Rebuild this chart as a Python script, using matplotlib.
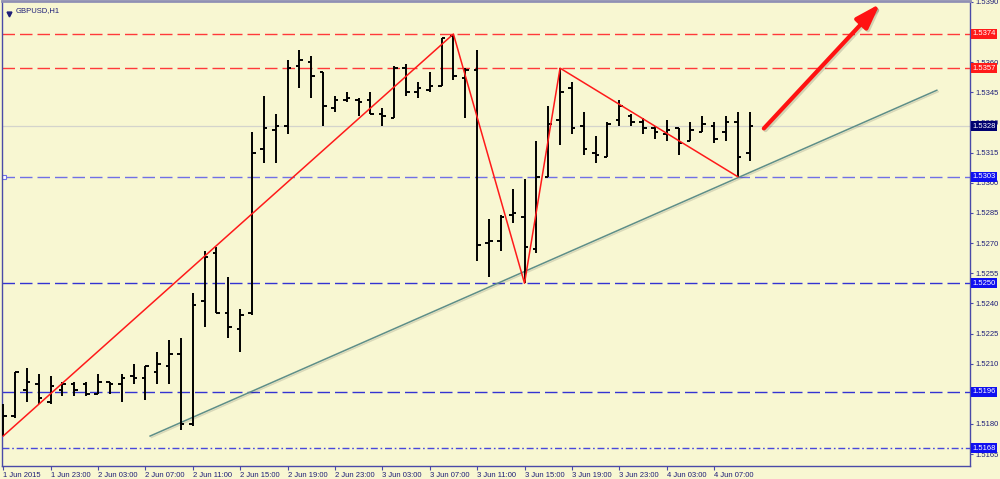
import numpy as np
import matplotlib.pyplot as plt
import matplotlib.patheffects as pe
import matplotlib.transforms as mtrans

# GBPUSD H1 bars (1 Jun 19:00 .. 4 Jun 10:00)
opens = [1.5177, 1.5184, 1.5197, 1.5200, 1.5191, 1.5197, 1.5200, 1.5200, 1.5195, 1.5201,
         1.5200, 1.5204, 1.5203, 1.5206, 1.5209, 1.5215, 1.5180, 1.5241, 1.5265, 1.5235,
         1.5227, 1.5235, 1.5317, 1.5326, 1.5328, 1.5358, 1.5360, 1.5355, 1.5337, 1.5341,
         1.5341, 1.5341, 1.5334, 1.5332, 1.5357, 1.5345, 1.5346, 1.5348, 1.5373, 1.5352,
         1.5356, 1.5270, 1.5271, 1.5284, 1.5283, 1.5267, 1.5303, 1.5331, 1.5347, 1.5328,
         1.5315, 1.5313, 1.5331, 1.5333, 1.5330, 1.5327, 1.5324, 1.5327, 1.5321, 1.5325,
         1.5328, 1.5325, 1.5330, 1.5315]
highs = [1.5190, 1.5206, 1.5208, 1.5205, 1.5204, 1.5201, 1.5201, 1.5201, 1.5205, 1.5201,
         1.5205, 1.5210, 1.5209, 1.5216, 1.5222, 1.5223, 1.5245, 1.5266, 1.5268, 1.5253,
         1.5237, 1.5325, 1.5343, 1.5334, 1.5361, 1.5366, 1.5363, 1.5355, 1.5343, 1.5345,
         1.5342, 1.5345, 1.5337, 1.5358, 1.5359, 1.5350, 1.5355, 1.5372, 1.5374, 1.5357,
         1.5366, 1.5282, 1.5284, 1.5297, 1.5302, 1.5321, 1.5338, 1.5357, 1.5350, 1.5335,
         1.5323, 1.5330, 1.5341, 1.5334, 1.5332, 1.5328, 1.5331, 1.5327, 1.5330, 1.5333,
         1.5330, 1.5333, 1.5335, 1.5335]
lows = [1.5174, 1.5183, 1.5191, 1.5190, 1.5190, 1.5194, 1.5194, 1.5194, 1.5195, 1.5195,
        1.5191, 1.5200, 1.5192, 1.5200, 1.5200, 1.5177, 1.5179, 1.5228, 1.5235, 1.5223,
        1.5216, 1.5234, 1.5310, 1.5310, 1.5324, 1.5347, 1.5342, 1.5328, 1.5335, 1.5340,
        1.5333, 1.5334, 1.5328, 1.5332, 1.5343, 1.5342, 1.5345, 1.5348, 1.5351, 1.5332,
        1.5261, 1.5253, 1.5266, 1.5280, 1.5250, 1.5265, 1.5303, 1.5319, 1.5324, 1.5314,
        1.5310, 1.5313, 1.5328, 1.5328, 1.5324, 1.5322, 1.5321, 1.5314, 1.5321, 1.5325,
        1.5320, 1.5321, 1.5303, 1.5311]
closes = [1.5184, 1.5206, 1.5201, 1.5193, 1.5199, 1.5200, 1.5197, 1.5195, 1.5201, 1.5200,
          1.5203, 1.5203, 1.5209, 1.5210, 1.5215, 1.5180, 1.5239, 1.5263, 1.5235, 1.5228,
          1.5234, 1.5315, 1.5327, 1.5328, 1.5357, 1.5361, 1.5353, 1.5338, 1.5341, 1.5342,
          1.5340, 1.5334, 1.5333, 1.5357, 1.5345, 1.5347, 1.5348, 1.5372, 1.5353, 1.5356,
          1.5269, 1.5271, 1.5283, 1.5285, 1.5268, 1.5303, 1.5329, 1.5345, 1.5327, 1.5317,
          1.5314, 1.5329, 1.5338, 1.5330, 1.5327, 1.5325, 1.5326, 1.5320, 1.5326, 1.5329,
          1.5322, 1.5330, 1.5313, 1.5328]

time_labels = ['1 Jun 2015', '1 Jun 23:00', '2 Jun 03:00', '2 Jun 07:00', '2 Jun 11:00',
               '2 Jun 15:00', '2 Jun 19:00', '2 Jun 23:00', '3 Jun 03:00', '3 Jun 07:00',
               '3 Jun 11:00', '3 Jun 15:00', '3 Jun 19:00', '3 Jun 23:00', '4 Jun 03:00',
               '4 Jun 07:00']
label_every = 4

# scale labels shown on the right (1.5195 / 1.5375 sit under the level boxes)
price_ticks = [1.5165, 1.5180, 1.5210, 1.5225, 1.5240, 1.5255, 1.5270, 1.5285,
               1.5300, 1.5315, 1.5330, 1.5345, 1.5360, 1.5390]

red_levels = [1.5374, 1.5357]
blue_levels = [1.5303, 1.5250, 1.5196]
dashdot_level = 1.5168
bid = 1.5328

zz_bar = [0, 38, 44, 47, 62]
zz_price = [1.5174, 1.5374, 1.5250, 1.5357, 1.5303]
trend_bar = [12.4, 78.8]
trend_price = [1.5174, 1.5346]
arrow_from = (64.2, 1.5327)
arrow_to = (74.0, 1.5389)

bg = '#F8F7D2'
navy = '#1E1E78'
axcol = '#4A4AA8'

fig = plt.figure(figsize=(10, 4.79), dpi=100, facecolor=bg)
ax = fig.add_axes([0.002, 13 / 479, 0.968, 465 / 479])
ax.set_facecolor(bg)

n = len(opens)
xs = np.arange(n)
ax.set_xlim(-0.1, 81.6)
ax.set_ylim(1.51591, 1.53904)

# level lines
ax.axhline(bid, color='#D4D4CC', lw=0.9, zorder=1)
for lv in red_levels:
    ax.axhline(lv, color='#FF3A3A', lw=1.0, dashes=(9, 3.6), zorder=1)
for k, lv in enumerate(blue_levels):
    c = '#7070E6' if k == 0 else '#3434D2'
    ax.axhline(lv, color=c, lw=1.0, dashes=(9, 3.6), zorder=1)
ax.axhline(dashdot_level, color='#4848DC', lw=1.0, dashes=(5, 2, 1.2, 2), zorder=1)
ax.plot([0.05], [blue_levels[0]], marker='s', ms=3, mfc='white', mec='#7070E6', mew=0.8,
        zorder=2, clip_on=False)

# OHLC bars
ax.vlines(xs, lows, highs, color='black', lw=1.4, zorder=3)
ax.hlines(opens, xs - 0.3, xs, color='black', lw=1.4, zorder=3)
ax.hlines(closes, xs, xs + 0.3, color='black', lw=1.4, zorder=3)

# zigzag, trend line, arrow
ax.plot(zz_bar, zz_price, color='#FF1A1A', lw=1.1, zorder=4)
ax.plot(trend_bar, trend_price, color='#5E8E88', lw=1.1, zorder=2,
        path_effects=[pe.SimpleLineShadow(offset=(1, -1), alpha=0.12), pe.Normal()])
ax.annotate('', xy=arrow_to, xytext=arrow_from, zorder=5,
            arrowprops=dict(arrowstyle='-|>,head_length=1.5,head_width=0.5', lw=3,
                            color='#FF1212', shrinkA=0, shrinkB=0,
                            path_effects=[pe.SimpleLineShadow(offset=(1.2, -1.2), alpha=0.15),
                                          pe.Normal()]))

# title
ax.plot([0.007], [0.972], marker='v', ms=3.5, color=navy, transform=ax.transAxes)
ax.text(0.014, 0.988, 'GBPUSD,H1', transform=ax.transAxes, va='top', ha='left',
        fontsize=5.5, color=navy, family='Liberation Sans')

# axes
for s in ax.spines.values():
    s.set_color(axcol)
    s.set_linewidth(1.0)
ax.spines['top'].set_color('#9090B4')
ax.spines['top'].set_linewidth(2)

ax.yaxis.tick_right()
ax.set_yticks(price_ticks)
ax.set_yticklabels(['%.4f' % p for p in price_ticks])
ax.tick_params(axis='y', direction='out', length=2.5, width=0.8, pad=1.5, colors=axcol,
               labelcolor=navy, labelsize=5.5)
ax.set_xticks(xs[::label_every][:len(time_labels)])
ax.set_xticklabels(time_labels)
ax.tick_params(axis='x', direction='out', length=3, width=0.8, pad=1, colors=axcol,
               labelcolor=navy, labelsize=5.5)
for t in ax.get_xticklabels() + ax.get_yticklabels():
    t.set_family('Liberation Sans')
for t in ax.get_xticklabels():
    t.set_ha('left')

# price boxes on the right scale
tr = mtrans.blended_transform_factory(ax.transAxes, ax.transData)
boxes = [(red_levels[0], '#FF1A1A'), (red_levels[1], '#FF1A1A'), (bid, '#000070'),
         (blue_levels[0], '#1010F0'), (blue_levels[1], '#1010F0'),
         (blue_levels[2], '#1010F0'), (dashdot_level, '#1010F0')]
for lv, fc in boxes:
    ax.text(1.0025, lv, '%.4f' % lv, transform=tr, ha='left', va='center', fontsize=5.5,
            color='white', family='Liberation Sans', zorder=10, clip_on=False,
            bbox=dict(boxstyle='square,pad=0.2', fc=fc, ec='none'))

plt.savefig('out.png', dpi=100, facecolor=bg)
